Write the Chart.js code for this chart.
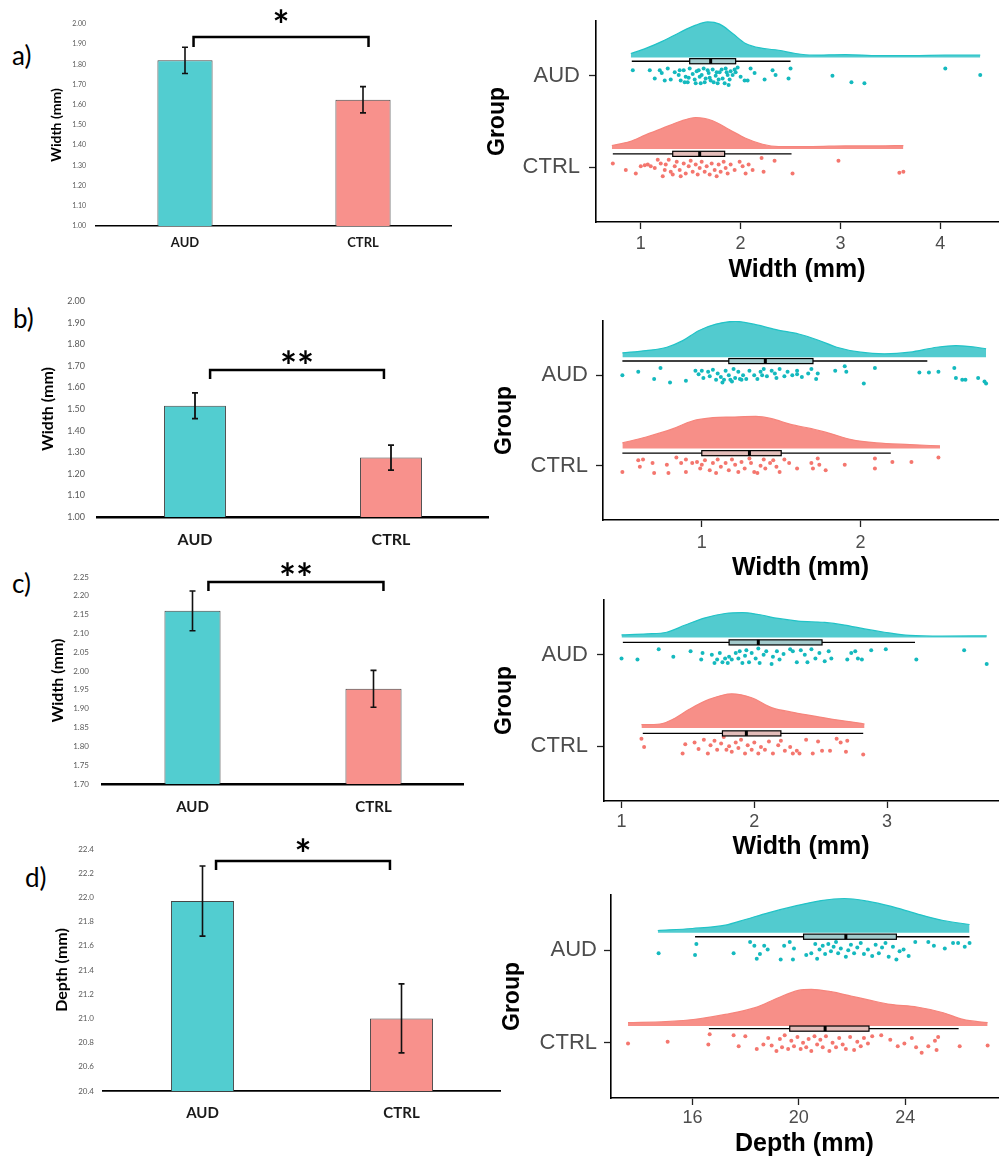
<!DOCTYPE html>
<html>
<head>
<meta charset="utf-8">
<script src="https://cdn.jsdelivr.net/npm/chart.js@4.4.1/dist/chart.umd.min.js"></script>
<style>
  html, body { margin: 0; padding: 0; background: #fff; overflow: hidden; }
  #fig { position: relative; width: 1002px; height: 1159px; overflow: hidden; }
  #fig canvas { position: absolute; }
  .tag { position: absolute; font: 26px Lato, sans-serif; color: #000; line-height: 26px; }
</style>
</head>
<body>
<div id="fig">
  <div class="tag" style="left:12px;top:42px">a)</div>
  <div class="tag" style="left:13px;top:305px">b)</div>
  <div class="tag" style="left:12px;top:570px">c)</div>
  <div class="tag" style="left:25px;top:864px">d)</div>
  <canvas id="barA"></canvas>
  <canvas id="barB"></canvas>
  <canvas id="barC"></canvas>
  <canvas id="barD"></canvas>
  <canvas id="rainA"></canvas>
  <canvas id="rainB"></canvas>
  <canvas id="rainC"></canvas>
  <canvas id="rainD"></canvas>
</div>
<script>
const groups = ["AUD", "CTRL"];

// group means and standard errors (bar panels)
const widthA = [1.82, 1.625];
const errA = [0.065, 0.065];
const widthB = [1.515, 1.275];
const errB = [0.06, 0.058];
const widthC = [2.16, 1.953];
const errC = [0.053, 0.049];
const depthD = [21.97, 21.0];
const errD = [0.29, 0.285];

const ticksA = [1.0, 1.1, 1.2, 1.3, 1.4, 1.5, 1.6, 1.7, 1.8, 1.9, 2.0];
const ticksB = [1.0, 1.1, 1.2, 1.3, 1.4, 1.5, 1.6, 1.7, 1.8, 1.9, 2.0];
const ticksC = [1.70, 1.75, 1.80, 1.85, 1.90, 1.95, 2.00, 2.05, 2.10, 2.15, 2.20, 2.25];
const ticksD = [20.4, 20.6, 20.8, 21.0, 21.2, 21.4, 21.6, 21.8, 22.0, 22.2, 22.4];

// raincloud panels: density profile, box stats [min, q1, median, q3, max], points [value, jitter]
const rainTicksA = [1, 2, 3, 4];
const rainTicksB = [1, 2];
const rainTicksC = [1, 2, 3];
const rainTicksD = [16, 20, 24];

const aAudDensX = [0.90, 1.05, 1.22, 1.39, 1.55, 1.67, 1.79, 1.92, 2.05, 2.22, 2.38, 2.55, 2.72, 3.05, 3.38, 3.72, 4.05, 4.40];
const aAudDensH = [0.044, 0.10, 0.18, 0.275, 0.355, 0.39, 0.366, 0.264, 0.154, 0.10, 0.08, 0.044, 0.026, 0.033, 0.022, 0.022, 0.026, 0.026];
const aCtrlDensX = [0.71, 0.89, 1.05, 1.22, 1.39, 1.55, 1.72, 1.89, 2.05, 2.22, 2.38, 2.72, 3.05, 3.38, 3.63];
const aCtrlDensH = [0.037, 0.08, 0.154, 0.227, 0.30, 0.344, 0.308, 0.209, 0.117, 0.051, 0.026, 0.026, 0.033, 0.033, 0.037];
const aAudBox = [0.91, 1.49, 1.70, 1.95, 2.50];
const aCtrlBox = [0.72, 1.32, 1.59, 1.84, 2.51];
const aAudPts = [[0.92,0.06],[1.09,0.06],[1.14,-0.03],[1.19,0.06],[1.21,0.03],[1.24,-0.05],[1.27,0.08],[1.30,-0.04],[1.34,0.04],[1.38,0.01],[1.39,0.06],[1.40,-0.05],[1.43,0.06],[1.44,-0.07],[1.45,-0.01],[1.47,-0.07],[1.48,-0.02],[1.49,0.08],[1.52,0.02],[1.54,-0.04],[1.55,-0.08],[1.56,0.05],[1.58,0.06],[1.59,-0.01],[1.60,-0.08],[1.61,0.01],[1.63,0.08],[1.64,-0.07],[1.65,-0.03],[1.67,0.06],[1.68,0.03],[1.69,-0.02],[1.70,-0.05],[1.72,0.07],[1.73,-0.07],[1.75,0.00],[1.76,0.04],[1.77,-0.08],[1.78,-0.04],[1.79,0.04],[1.81,0.07],[1.82,-0.03],[1.84,-0.08],[1.85,0.08],[1.86,0.04],[1.87,0.01],[1.88,-0.10],[1.89,-0.04],[1.90,0.05],[1.92,0.01],[1.94,0.07],[1.95,0.04],[1.97,0.09],[2.00,-0.01],[2.04,-0.05],[2.07,-0.05],[2.10,0.08],[2.14,0.03],[2.24,-0.04],[2.32,0.06],[2.35,0.01],[2.48,-0.03],[2.50,0.08],[2.92,0.00],[3.11,-0.07],[3.24,-0.08],[4.05,0.08],[4.40,0.01]];
const aCtrlPts = [[0.72,0.04],[0.85,-0.03],[0.95,-0.07],[1.00,0.01],[1.04,0.02],[1.07,0.03],[1.10,0.01],[1.14,-0.01],[1.17,0.08],[1.20,0.04],[1.22,-0.10],[1.24,-0.03],[1.25,0.03],[1.28,0.08],[1.30,-0.05],[1.32,-0.08],[1.34,0.01],[1.36,0.06],[1.39,-0.03],[1.40,-0.10],[1.43,0.04],[1.45,-0.07],[1.48,0.01],[1.50,0.07],[1.52,-0.05],[1.55,0.03],[1.57,-0.08],[1.59,-0.01],[1.61,0.06],[1.64,-0.05],[1.66,0.01],[1.69,-0.08],[1.71,0.04],[1.74,-0.03],[1.76,-0.10],[1.78,0.03],[1.80,-0.05],[1.83,0.06],[1.85,-0.01],[1.87,-0.07],[1.90,0.03],[1.94,-0.03],[1.99,0.06],[2.02,0.01],[2.05,-0.07],[2.08,0.03],[2.12,-0.03],[2.21,0.10],[2.23,-0.05],[2.34,0.07],[2.52,-0.07],[2.98,0.07],[3.59,-0.06],[3.63,-0.05]];

const bAudDensX = [0.50, 0.65, 0.78, 0.88, 0.98, 1.09, 1.21, 1.34, 1.48, 1.61, 1.73, 1.85, 2.00, 2.15, 2.31, 2.48, 2.60, 2.73, 2.79];
const bAudDensH = [0.048, 0.073, 0.11, 0.183, 0.293, 0.366, 0.396, 0.359, 0.30, 0.256, 0.19, 0.11, 0.055, 0.037, 0.055, 0.11, 0.128, 0.11, 0.092];
const bCtrlDensX = [0.50, 0.65, 0.82, 0.94, 1.07, 1.19, 1.34, 1.44, 1.56, 1.69, 1.81, 1.94, 2.10, 2.31, 2.50];
const bCtrlDensH = [0.062, 0.128, 0.22, 0.304, 0.341, 0.348, 0.355, 0.33, 0.267, 0.22, 0.165, 0.099, 0.062, 0.044, 0.029];
const bAudBox = [0.50, 1.17, 1.40, 1.70, 2.42];
const bCtrlBox = [0.50, 1.00, 1.30, 1.50, 2.19];
const bAudPts = [[0.50,0],[0.60,0.04],[0.70,-0.04],[0.74,0.08],[0.80,-0.08],[0.90,-0.06],[0.96,0.05],[0.98,0.01],[1.00,0.05],[1.01,-0.03],[1.04,0.04],[1.05,-0.01],[1.07,0.06],[1.09,-0.05],[1.10,0.02],[1.12,-0.02],[1.13,-0.08],[1.14,-0.05],[1.15,0.05],[1.17,0],[1.18,-0.05],[1.19,-0.07],[1.20,0.07],[1.21,-0.03],[1.23,0.04],[1.24,-0.04],[1.25,-0.05],[1.26,0],[1.28,-0.04],[1.30,0.05],[1.33,0],[1.35,-0.04],[1.37,0.04],[1.38,0],[1.39,0.07],[1.41,-0.01],[1.44,0.05],[1.46,0.02],[1.47,-0.03],[1.49,0.07],[1.52,-0.01],[1.54,0.04],[1.57,0],[1.60,0.05],[1.60,0.01],[1.63,-0.02],[1.67,0.02],[1.69,0.07],[1.72,-0.04],[1.73,0.02],[1.84,0.05],[1.90,0.10],[1.91,0.04],[2.02,-0.09],[2.09,0.08],[2.37,0.03],[2.43,0.03],[2.49,0.04],[2.59,0.08],[2.60,-0.03],[2.64,-0.05],[2.66,-0.05],[2.74,-0.03],[2.78,-0.07],[2.79,-0.09]];
const bCtrlPts = [[0.50,-0.07],[0.60,0.06],[0.61,-0.01],[0.63,0.07],[0.69,0.03],[0.70,-0.08],[0.78,0.01],[0.79,-0.08],[0.84,0.09],[0.87,0.03],[0.90,0.07],[0.90,-0.07],[0.94,0.03],[0.97,0.04],[0.99,-0.03],[1.00,0.01],[1.02,0.06],[1.05,-0.05],[1.07,0.03],[1.09,-0.08],[1.10,0.07],[1.12,-0.01],[1.15,0.03],[1.17,-0.05],[1.19,0.07],[1.21,0.01],[1.23,-0.07],[1.25,0.04],[1.27,-0.03],[1.30,0.08],[1.31,0.03],[1.33,-0.07],[1.35,-0.08],[1.37,0],[1.39,0.07],[1.40,-0.03],[1.43,0.03],[1.45,0.06],[1.47,-0.01],[1.49,-0.07],[1.52,0.07],[1.55,0.03],[1.60,-0.03],[1.69,0.03],[1.70,-0.03],[1.73,0.08],[1.74,0.01],[1.78,-0.05],[1.90,0.01],[2.09,0.08],[2.09,-0.03],[2.20,0.04],[2.32,0.04],[2.49,0.09]];

const cAudDensX = [1.00, 1.19, 1.34, 1.48, 1.63, 1.78, 1.91, 2.03, 2.18, 2.33, 2.53, 2.68, 2.83, 2.98, 3.17, 3.42, 3.75];
const cAudDensH = [0.029, 0.039, 0.057, 0.136, 0.215, 0.262, 0.272, 0.251, 0.208, 0.179, 0.165, 0.136, 0.093, 0.057, 0.022, 0.014, 0.018];
const cCtrlDensX = [1.15, 1.29, 1.39, 1.51, 1.66, 1.83, 1.98, 2.13, 2.30, 2.48, 2.63, 2.75, 2.83];
const cCtrlDensH = [0.036, 0.043, 0.097, 0.204, 0.312, 0.373, 0.330, 0.222, 0.168, 0.122, 0.086, 0.061, 0.043];
const cAudBox = [1.01, 1.81, 2.03, 2.51, 3.21];
const cCtrlBox = [1.16, 1.76, 1.94, 2.20, 2.82];
const cAudPts = [[1.00,-0.04],[1.12,-0.05],[1.28,0.06],[1.39,-0.02],[1.52,0.04],[1.60,-0.05],[1.61,0.02],[1.68,0],[1.70,-0.09],[1.72,-0.05],[1.74,0.02],[1.76,-0.08],[1.78,-0.04],[1.80,-0.09],[1.81,-0.02],[1.83,-0.05],[1.86,0.02],[1.88,-0.04],[1.89,0.04],[1.91,-0.09],[1.93,-0.01],[1.94,0.05],[1.96,-0.08],[1.98,0.02],[2.01,-0.04],[2.03,0.07],[2.04,-0.09],[2.07,0],[2.09,0.04],[2.13,-0.10],[2.14,-0.02],[2.17,0.04],[2.19,-0.05],[2.22,0.01],[2.27,0.06],[2.29,0.04],[2.32,-0.08],[2.35,0.05],[2.38,0],[2.40,-0.08],[2.43,0.06],[2.46,-0.04],[2.49,0.02],[2.53,-0.07],[2.56,0.04],[2.58,-0.04],[2.70,-0.05],[2.73,0.02],[2.76,0.04],[2.78,-0.04],[2.81,-0.05],[2.88,0.05],[2.99,0.06],[3.22,-0.05],[3.58,0.05],[3.75,-0.10]];
const cCtrlPts = [[1.15,0.08],[1.17,-0.01],[1.46,-0.08],[1.48,0.02],[1.55,0.04],[1.58,-0.03],[1.62,0.07],[1.65,-0.08],[1.67,0.01],[1.70,0.06],[1.72,-0.04],[1.75,0.03],[1.77,0.10],[1.79,-0.04],[1.81,0],[1.83,-0.06],[1.86,0.04],[1.88,-0.02],[1.90,0.07],[1.93,-0.08],[1.95,0.01],[1.98,-0.04],[2.00,0.04],[2.03,-0.08],[2.05,-0.01],[2.08,-0.04],[2.11,0.05],[2.14,-0.08],[2.18,0.01],[2.20,0.06],[2.23,-0.05],[2.27,-0.01],[2.29,-0.08],[2.32,-0.05],[2.34,-0.08],[2.39,0.07],[2.44,-0.08],[2.48,0.05],[2.51,-0.05],[2.57,-0.05],[2.62,0.08],[2.65,0.04],[2.69,-0.06],[2.70,0.06],[2.82,-0.09]];

const dAudDensX = [14.7, 16.0, 17.24, 17.99, 18.85, 19.84, 20.84, 21.71, 22.58, 23.44, 24.44, 25.43, 26.42];
const dAudDensH = [0.025, 0.047, 0.083, 0.144, 0.217, 0.289, 0.35, 0.372, 0.343, 0.289, 0.206, 0.134, 0.09];
const dCtrlDensX = [13.58, 15.0, 16.25, 17.24, 18.36, 19.23, 19.98, 20.47, 21.21, 21.96, 22.70, 23.44, 24.44, 25.43, 26.17, 27.1];
const dCtrlDensH = [0.036, 0.047, 0.079, 0.126, 0.199, 0.307, 0.386, 0.397, 0.372, 0.325, 0.278, 0.235, 0.206, 0.144, 0.072, 0.036];
const dAudBox = [16.1, 20.18, 21.77, 23.67, 26.42];
const dCtrlBox = [16.62, 19.66, 20.99, 22.64, 26.01];
const dAudPts = [[14.73,-0.03],[16.15,0.07],[16.10,-0.05],[17.55,-0.03],[18.17,0.09],[18.33,0.05],[18.42,-0.09],[18.54,-0.04],[18.70,0.05],[18.83,0.01],[19.32,-0.10],[19.45,0.05],[19.66,0.09],[19.78,-0.10],[19.82,0.02],[20.28,-0.05],[20.47,-0.03],[20.62,0.07],[20.69,-0.09],[20.78,0.01],[20.90,0.05],[20.99,-0.04],[21.11,0.07],[21.21,-0.01],[21.31,0.04],[21.40,0.09],[21.48,-0.03],[21.58,0.02],[21.77,-0.07],[21.86,0],[21.96,0.06],[22.08,-0.03],[22.20,0.03],[22.33,0.08],[22.45,-0.04],[22.60,0.01],[22.76,-0.06],[22.89,0.06],[23.01,-0.03],[23.13,0.03],[23.26,0.08],[23.38,-0.07],[23.54,0.04],[23.67,-0.10],[23.79,-0.01],[23.94,0.01],[24.13,-0.06],[24.38,0.09],[24.87,0.09],[25.08,0.05],[25.49,0.02],[25.80,0.08],[25.99,0.08],[26.24,0.04],[26.42,0.08]];
const dCtrlPts = [[13.58,-0.01],[15.07,0.01],[16.60,-0.02],[16.65,0.09],[17.55,0.08],[17.74,-0.04],[17.99,0.07],[18.42,-0.07],[18.67,-0.02],[18.85,0.05],[18.98,-0.03],[19.16,-0.09],[19.29,0.04],[19.37,-0.05],[19.47,0.08],[19.60,-0.07],[19.72,0.02],[19.82,-0.04],[19.95,0.06],[20.07,-0.07],[20.16,0],[20.28,-0.05],[20.37,0.04],[20.47,-0.09],[20.59,0.07],[20.69,-0.02],[20.81,0.03],[20.90,-0.05],[21.02,0.07],[21.15,-0.09],[21.27,0],[21.40,-0.05],[21.52,0.05],[21.65,-0.02],[21.77,-0.07],[21.93,0.06],[22.08,-0.08],[22.20,0.01],[22.33,-0.04],[22.45,0.05],[22.60,-0.01],[22.76,0.07],[23.10,0.08],[23.44,0.03],[23.72,-0.04],[23.97,-0.01],[24.25,0.05],[24.41,-0.05],[24.62,-0.11],[24.87,-0.04],[25.12,0.02],[25.24,0.06],[25.18,-0.08],[26.05,-0.04],[27.10,-0.03]];

// colours
const barTeal = '#52cdd0';
const barSalmon = '#f8918c';
const tealFill = '#52cbcf', tealLine = '#22c3c7', tealDot = '#14b9be';
const salmonFill = '#f78f88', salmonLine = '#f6857c', salmonDot = '#f4766e';

Chart.defaults.font.family = 'Liberation Sans';

function place(id, box) {
  const cv = document.getElementById(id);
  cv.width = box.width;
  cv.height = box.height;
  cv.style.left = box.left + 'px';
  cv.style.top = box.top + 'px';
  return cv;
}

function noPad(s) {
  s.paddingTop = 0; s.paddingBottom = 0; s.paddingLeft = 0; s.paddingRight = 0;
}

// error bars on top of the bars
function errorBars(err, width) {
  return {
    id: 'errorBars',
    afterDatasetsDraw(chart) {
      const { ctx, scales: { y } } = chart;
      const vals = chart.data.datasets[0].data;
      ctx.save();
      ctx.strokeStyle = '#111';
      ctx.lineWidth = width;
      chart.getDatasetMeta(0).data.forEach((bar, i) => {
        const hi = y.getPixelForValue(vals[i] + err[i]);
        const lo = y.getPixelForValue(vals[i] - err[i]);
        ctx.beginPath();
        ctx.moveTo(bar.x, hi); ctx.lineTo(bar.x, lo);
        ctx.moveTo(bar.x - 3, hi); ctx.lineTo(bar.x + 3, hi);
        ctx.moveTo(bar.x - 3, lo); ctx.lineTo(bar.x + 3, lo);
        ctx.stroke();
      });
      ctx.restore();
    }
  };
}

// significance bracket with stars
function bracket(b) {
  return {
    id: 'bracket',
    afterDatasetsDraw(chart) {
      const { ctx, scales: { x, y } } = chart;
      const x0 = x.getPixelForValue(b.from), x1 = x.getPixelForValue(b.to);
      const top = y.getPixelForValue(b.top), leg = y.getPixelForValue(b.leg);
      ctx.save();
      ctx.strokeStyle = '#000';
      ctx.lineWidth = 2.5;
      ctx.beginPath();
      ctx.moveTo(x0, leg); ctx.lineTo(x0, top); ctx.lineTo(x1, top); ctx.lineTo(x1, leg);
      ctx.stroke();
      ctx.fillStyle = '#000';
      ctx.font = 'bold ' + b.size + 'px Lato';
      ctx.textAlign = 'center';
      ctx.textBaseline = 'middle';
      ctx.fillText(b.stars, (x0 + x1) / 2, y.getPixelForValue(b.starAt) + b.size * 0.28);
      ctx.restore();
    }
  };
}

function barChart(id, box, o) {
  const cv = place(id, box);
  return new Chart(cv, {
    type: 'bar',
    data: {
      labels: groups,
      datasets: [{
        data: o.values,
        backgroundColor: [barTeal, barSalmon],
        borderColor: '#474747',
        borderWidth: 1,
        categoryPercentage: 1,
        barPercentage: o.barPct
      }]
    },
    options: {
      responsive: false,
      animation: false,
      devicePixelRatio: 1,
      layout: { padding: { top: o.padTop, right: 0, bottom: 0, left: 0 } },
      plugins: { legend: { display: false }, tooltip: { enabled: false } },
      scales: {
        x: {
          grid: { display: false, drawTicks: false },
          border: { display: true, color: '#000', width: o.baseW },
          ticks: { color: '#1a1a1a', padding: o.xPad, font: { family: 'Lato', weight: 'bold', size: o.xFont } },
          afterFit: s => { s.height = o.xHeight; noPad(s); }
        },
        y: {
          min: o.ticks[0],
          max: o.ticks[o.ticks.length - 1],
          grid: { display: false, drawTicks: false },
          border: { display: false },
          afterBuildTicks: s => { s.ticks = o.ticks.map(v => ({ value: v })); },
          ticks: {
            color: '#595959',
            padding: o.yPad,
            font: { family: 'Lato', size: o.yFont },
            callback: v => v.toFixed(o.dec)
          },
          title: {
            display: true,
            text: o.yTitle,
            color: '#000',
            font: { family: 'Lato', weight: 'bold', size: o.titleSize },
            padding: { top: o.titlePad, bottom: 0 }
          },
          afterFit: s => { s.width = o.yWidth; noPad(s); }
        }
      }
    },
    plugins: [errorBars(o.err, o.errW), bracket(o.bracket)]
  });
}

// box-and-whisker drawn over the raincloud
function boxes(items) {
  return {
    id: 'boxes',
    afterDatasetsDraw(chart) {
      const { ctx, scales: { x, y } } = chart;
      ctx.save();
      items.forEach(b => {
        const [mn, q1, med, q3, mx] = b.stats;
        const yc = y.getPixelForValue(b.at);
        const h = Math.abs(y.getPixelForValue(b.at + 0.028) - yc);
        ctx.strokeStyle = '#000';
        ctx.lineWidth = 1.4;
        ctx.beginPath();
        ctx.moveTo(x.getPixelForValue(mn), yc);
        ctx.lineTo(x.getPixelForValue(mx), yc);
        ctx.stroke();
        const l = x.getPixelForValue(q1), r = x.getPixelForValue(q3);
        ctx.fillStyle = b.fill;
        ctx.fillRect(l, yc - h, r - l, 2 * h);
        ctx.lineWidth = 1.2;
        ctx.strokeRect(l, yc - h, r - l, 2 * h);
        const m = x.getPixelForValue(med);
        ctx.lineWidth = 3;
        ctx.beginPath();
        ctx.moveTo(m, yc - h); ctx.lineTo(m, yc + h);
        ctx.stroke();
      });
      ctx.restore();
    }
  };
}

function density(xs, hs, base) {
  return xs.map((v, i) => ({ x: v, y: base + hs[i] }));
}

function jitter(pts, level) {
  return pts.map(([v, j]) => ({ x: v, y: level + j }));
}

function rainChart(id, box, o) {
  const cv = place(id, box);
  const dens = (xs, hs, base, fill, line) => ({
    type: 'line',
    data: density(xs, hs, base),
    fill: { value: base },
    backgroundColor: fill,
    borderColor: line,
    borderWidth: 1.2,
    pointRadius: 0,
    cubicInterpolationMode: 'monotone'
  });
  const dots = (pts, level, color) => ({
    type: 'scatter',
    data: jitter(pts, level),
    backgroundColor: color,
    borderWidth: 0,
    pointRadius: 2
  });
  return new Chart(cv, {
    type: 'scatter',
    data: {
      datasets: [
        dens(o.aud.densX, o.aud.densH, o.bases[0], tealFill, tealLine),
        dens(o.ctrl.densX, o.ctrl.densH, o.bases[1], salmonFill, salmonLine),
        dots(o.aud.pts, 2, tealDot),
        dots(o.ctrl.pts, 1, salmonDot)
      ]
    },
    options: {
      responsive: false,
      animation: false,
      devicePixelRatio: 1,
      layout: { padding: { top: o.padTop, right: o.padRight, bottom: 0, left: 0 } },
      plugins: { legend: { display: false }, tooltip: { enabled: false } },
      scales: {
        x: {
          type: 'linear',
          min: o.xMin,
          max: o.xMax,
          afterBuildTicks: s => { s.ticks = o.xTicks.map(v => ({ value: v })); },
          grid: { display: true, drawOnChartArea: false, drawTicks: true, tickLength: 7, tickColor: '#222', tickWidth: 1.3 },
          border: { display: true, color: '#000', width: 1.6 },
          ticks: { color: '#4d4d4d', padding: o.xPad, font: { size: 18 } },
          title: {
            display: true,
            text: o.xTitle,
            color: '#000',
            font: { size: 25, weight: 'bold' },
            padding: 0
          },
          afterFit: s => { s.height = o.xHeight; noPad(s); }
        },
        y: {
          type: 'linear',
          min: 0.4,
          max: 2.6,
          afterBuildTicks: s => { s.ticks = [{ value: 1 }, { value: 2 }]; },
          grid: { display: true, drawOnChartArea: false, drawTicks: true, tickLength: 7, tickColor: '#222', tickWidth: 1.3 },
          border: { display: true, color: '#000', width: 1.6 },
          ticks: {
            color: '#4d4d4d',
            padding: o.yPad,
            font: { size: 22 },
            callback: v => (v === 2 ? groups[0] : groups[1])
          },
          title: {
            display: true,
            text: 'Group',
            color: '#000',
            font: { size: 23, weight: 'bold' },
            padding: { top: o.groupPad, bottom: 0 }
          },
          afterFit: s => { s.width = o.yWidth; noPad(s); }
        }
      }
    },
    plugins: [boxes([
      { stats: o.aud.box, at: o.boxAt[0], fill: '#a3c9cb' },
      { stats: o.ctrl.box, at: o.boxAt[1], fill: '#e2bcb9' }
    ])]
  });
}

// a) width, first measurement
barChart('barA', { left: 0, top: 0, width: 452, height: 260 }, {
  values: widthA, err: errA, errW: 1.6, ticks: ticksA, dec: 2,
  yTitle: 'Width (mm)', titleSize: 14, titlePad: 48, yFont: 7, yPad: 10, yWidth: 96,
  xFont: 13, xPad: 9, xHeight: 34, padTop: 24, barPct: 0.31, baseW: 1.5,
  bracket: { from: 0.048, to: 1.031, top: 1.936, leg: 1.886, starAt: 2.04, stars: '*', size: 40 }
});
rainChart('rainA', { left: 480, top: 0, width: 522, height: 285 }, {
  aud: { densX: aAudDensX, densH: aAudDensH, box: aAudBox, pts: aAudPts },
  ctrl: { densX: aCtrlDensX, densH: aCtrlDensH, box: aCtrlBox, pts: aCtrlPts },
  bases: [2.2, 1.2], boxAt: [2.16, 1.146],
  xMin: 0.5515, xMax: 4.578, xTicks: rainTicksA, xTitle: 'Width (mm)',
  padTop: 21, padRight: 2, yWidth: 116, xHeight: 63, xPad: 4, yPad: 9, groupPad: 4
});

// b) width, second measurement
barChart('barB', { left: 0, top: 262, width: 489, height: 298 }, {
  values: widthB, err: errB, errW: 1.8, ticks: ticksB, dec: 2,
  yTitle: 'Width (mm)', titleSize: 16, titlePad: 38, yFont: 9, yPad: 12, yWidth: 97,
  xFont: 16, xPad: 13, xHeight: 43, padTop: 39, barPct: 0.316, baseW: 2.5,
  bracket: { from: 0.077, to: 0.964, top: 1.68, leg: 1.639, starAt: 1.74, stars: '**', size: 40 }
});
rainChart('rainB', { left: 480, top: 290, width: 522, height: 293 }, {
  aud: { densX: bAudDensX, densH: bAudDensH, box: bAudBox, pts: bAudPts },
  ctrl: { densX: bCtrlDensX, densH: bCtrlDensH, box: bCtrlBox, pts: bCtrlPts },
  bases: [2.2, 1.19], boxAt: [2.157, 1.139],
  xMin: 0.378, xMax: 2.865, xTicks: rainTicksB, xTitle: 'Width (mm)',
  padTop: 31, padRight: 0, yWidth: 123, xHeight: 63, xPad: 5, yPad: 8, groupPad: 11
});

// c) width, third measurement
barChart('barC', { left: 0, top: 562, width: 464, height: 258 }, {
  values: widthC, err: errC, errW: 1.6, ticks: ticksC, dec: 2,
  yTitle: 'Width (mm)', titleSize: 16, titlePad: 48, yFont: 8, yPad: 13, yWidth: 102,
  xFont: 15, xPad: 14, xHeight: 36, padTop: 15, barPct: 0.31, baseW: 2.5,
  bracket: { from: 0.088, to: 1.055, top: 2.237, leg: 2.213, starAt: 2.272, stars: '**', size: 40 }
});
rainChart('rainC', { left: 480, top: 585, width: 522, height: 277 }, {
  aud: { densX: cAudDensX, densH: cAudDensH, box: cAudBox, pts: cAudPts },
  ctrl: { densX: cCtrlDensX, densH: cCtrlDensH, box: cCtrlBox, pts: cCtrlPts },
  bases: [2.19, 1.2], boxAt: [2.136, 1.14],
  xMin: 0.868, xMax: 3.835, xTicks: rainTicksC, xTitle: 'Width (mm)',
  padTop: 15, padRight: 0, yWidth: 124, xHeight: 61, xPad: 3, yPad: 9, groupPad: 11
});

// d) depth
barChart('barD', { left: 0, top: 822, width: 501, height: 337 }, {
  values: depthD, err: errD, errW: 1.6, ticks: ticksD, dec: 1,
  yTitle: 'Depth (mm)', titleSize: 16, titlePad: 52, yFont: 8, yPad: 9, yWidth: 103,
  xFont: 15, xPad: 13, xHeight: 68, padTop: 27, barPct: 0.317, baseW: 1.8,
  bracket: { from: 0.068, to: 0.942, top: 22.30, leg: 22.226, starAt: 22.43, stars: '*', size: 40 }
});
rainChart('rainD', { left: 480, top: 865, width: 522, height: 294 }, {
  aud: { densX: dAudDensX, densH: dAudDensH, box: dAudBox, pts: dAudPts },
  ctrl: { densX: dCtrlDensX, densH: dCtrlDensH, box: dCtrlBox, pts: dCtrlPts },
  bases: [2.19, 1.18], boxAt: [2.148, 1.152],
  xMin: 12.94, xMax: 27.49, xTicks: rainTicksD, xTitle: 'Depth (mm)',
  padTop: 30, padRight: 0, yWidth: 131, xHeight: 61, xPad: 2, yPad: 7, groupPad: 19
});
</script>
</body>
</html>
